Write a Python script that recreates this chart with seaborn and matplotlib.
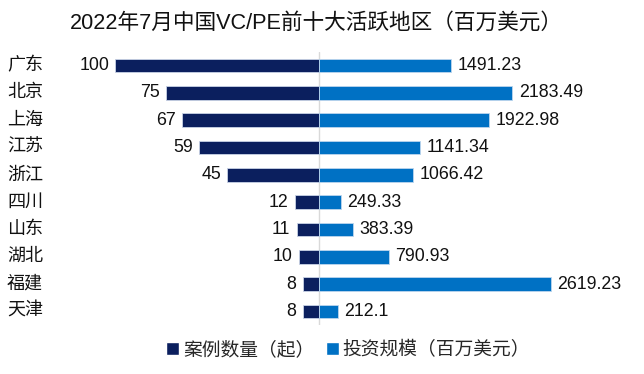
import numpy as np
import pandas as pd
import matplotlib
matplotlib.use("Agg")
import matplotlib.pyplot as plt
import seaborn as sns
from matplotlib.patches import Patch
import matplotlib.transforms as mtransforms

regions = ["广东", "北京", "上海", "江苏", "浙江", "四川", "山东", "湖北", "福建", "天津"]
cases = [100, 75, 67, 59, 45, 12, 11, 10, 8, 8]
invest = [1491.23, 2183.49, 1922.98, 1141.34, 1066.42, 249.33, 383.39, 790.93, 2619.23, 212.1]
invest_labels = ["1491.23", "2183.49", "1922.98", "1141.34", "1066.42", "249.33", "383.39", "790.93", "2619.23", "212.1"]

navy = "#0b1f5e"
blue = "#0071c4"
k = 23.0  # scale of case counts to the investment axis

sns.set_theme(style="white")
plt.rcParams['font.family'] = ['Liberation Sans', 'Noto Sans CJK SC', 'DejaVu Sans']

df = pd.DataFrame({"region": regions, "cases": cases, "invest": invest})
df["left"] = -df["cases"] * k

fig = plt.figure(figsize=(6.44, 3.74), dpi=100)
ax = fig.add_axes([70 / 644, 1 - 325 / 374, 560 / 644, 273 / 374])

sns.barplot(data=df, y="region", x="left", color=navy, orient="h", width=0.5, saturation=1,
            edgecolor="#c9d3e6", linewidth=0.6, ax=ax)
sns.barplot(data=df, y="region", x="invest", color=blue, orient="h", width=0.5, saturation=1,
            edgecolor="#bcd6ee", linewidth=0.6, ax=ax)

x0 = (70 - 319) / 0.0886
x1 = (630 - 319) / 0.0886
ax.set_xlim(x0, x1)
ax.set_ylim(9.5, -0.5)
ax.axvline(0, color="#d9d9d9", lw=1, zorder=0)

for i in range(len(regions)):
    ax.text(-cases[i] * k - 70, i, str(cases[i]), ha="right", va="center", fontsize=12.8, color="#111111")
    ax.text(invest[i] + 70, i, invest_labels[i], ha="left", va="center", fontsize=12.8, color="#111111")

trans = mtransforms.blended_transform_factory(fig.transFigure, ax.transData)
for i, r in enumerate(regions):
    ax.text(7 / 644, i, r, transform=trans, ha="left", va="center", fontsize=13, color="#111111")

ax.set_xticks([])
ax.set_yticks([])
ax.set_xlabel("")
ax.set_ylabel("")
for s in ax.spines.values():
    s.set_visible(False)

fig.text(316 / 644, 1 - 23 / 374, "2022年7月中国VC/PE前十大活跃地区（百万美元）", ha="center", va="center",
         fontsize=15.6, color="#111111")

handles = [Patch(facecolor=navy, label="案例数量（起）"), Patch(facecolor=blue, label="投资规模（百万美元）")]
fig.legend(handles=handles, loc="center", bbox_to_anchor=(348 / 644, 1 - 350 / 374), ncol=2, frameon=False,
           fontsize=13.5, handlelength=0.7, handleheight=0.65, handletextpad=0.2, columnspacing=0.6)

fig.savefig("out.png", dpi=100)
